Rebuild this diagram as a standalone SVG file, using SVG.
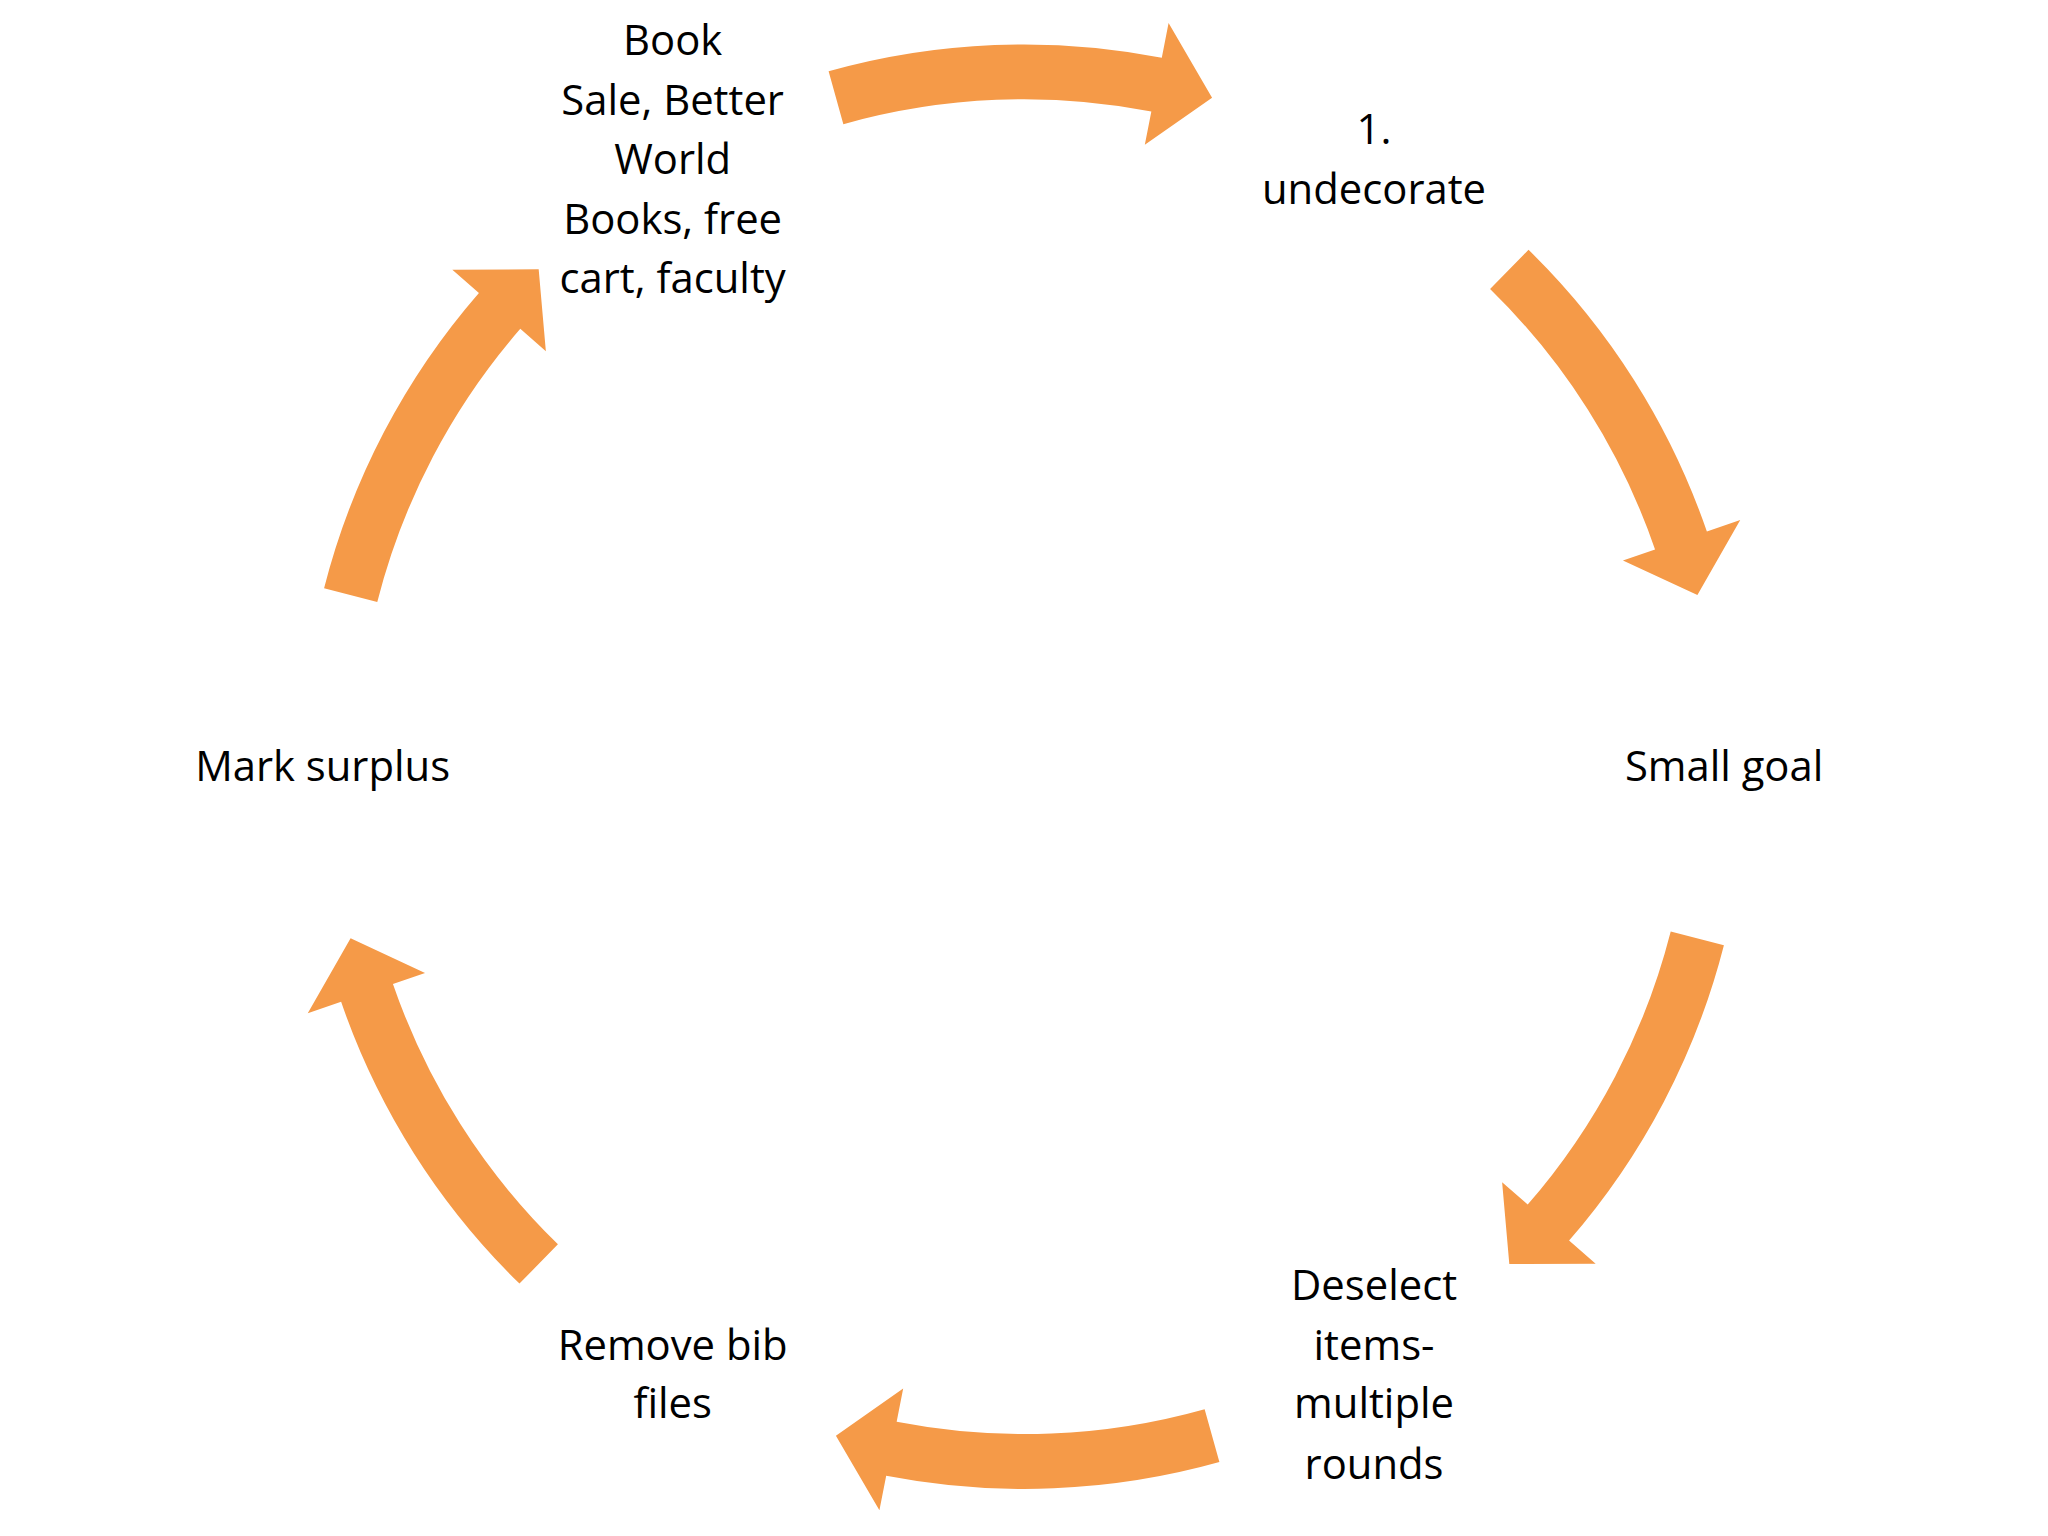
<svg xmlns="http://www.w3.org/2000/svg" width="2048" height="1536" viewBox="0 0 2048 1536">
<defs>
<style>
.t{font-family:"Open Sans","Noto Sans",sans-serif;font-size:32px;fill:#000;text-anchor:middle}
.a{fill:#F59A48}
</style>
<path id="arr" d="M634.4,54.6 A553,553 0 0 1 889.5,44.2 L894.7,17.7 L928,74.8 L876.5,110.9 L881.5,85.4 A511,511 0 0 0 645.7,95.1 Z"/>
</defs>
<rect width="2048" height="1536" fill="#fff"/>
<g transform="scale(1.30612)">
<g id="connectors" class="a">
<use href="#arr"/>
<use href="#arr" transform="rotate(60 784 587)"/>
<use href="#arr" transform="rotate(120 784 587)"/>
<use href="#arr" transform="rotate(180 784 587)"/>
<use href="#arr" transform="rotate(240 784 587)"/>
<use href="#arr" transform="rotate(300 784 587)"/>
</g>
<g id="n1"><text class="t"><tspan x="515" y="42">Book</tspan><tspan x="515" y="88">Sale, Better</tspan><tspan x="515" y="133">World</tspan><tspan x="515" y="179">Books, free</tspan><tspan x="515" y="224">cart, faculty</tspan></text></g>
<g id="n2"><text class="t"><tspan x="1052" y="110">1.</tspan><tspan x="1052" y="156">undecorate</tspan></text></g>
<g id="n3"><text class="t" x="1320" y="598">Small goal</text></g>
<g id="n4"><text class="t"><tspan x="1052" y="995">Deselect</tspan><tspan x="1052" y="1041">items-</tspan><tspan x="1052" y="1086">multiple</tspan><tspan x="1052" y="1132">rounds</tspan></text></g>
<g id="n5"><text class="t"><tspan x="515" y="1041">Remove bib</tspan><tspan x="515" y="1086">files</tspan></text></g>
<g id="n6"><text class="t" x="247" y="598">Mark surplus</text></g>
</g>
</svg>
